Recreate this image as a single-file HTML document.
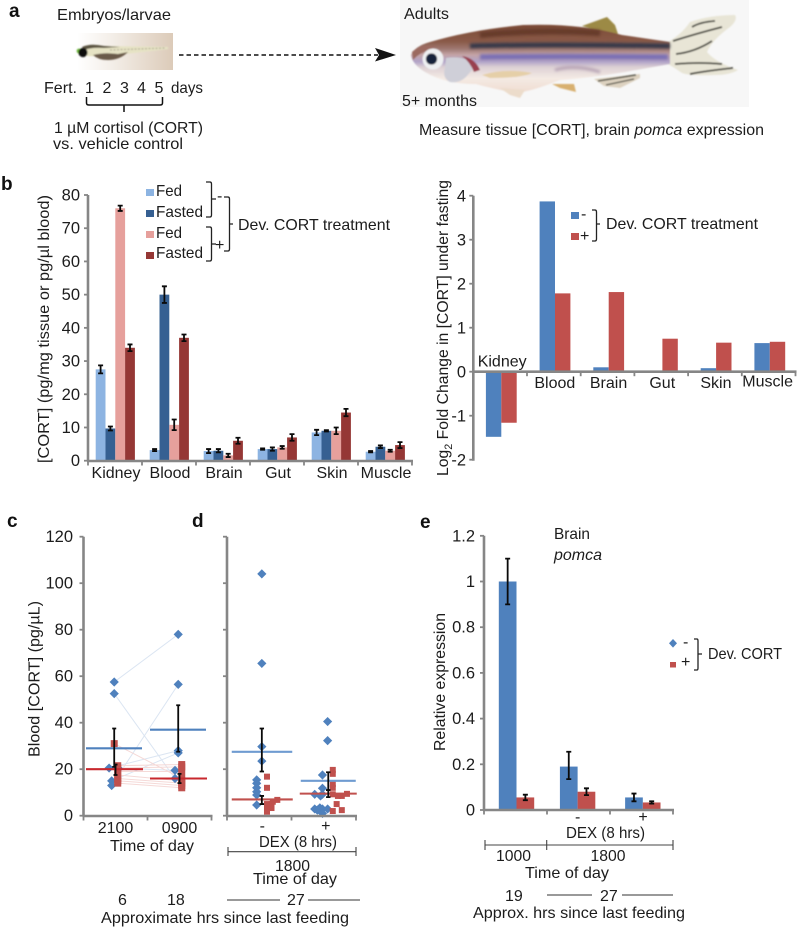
<!DOCTYPE html>
<html lang="en">
<head>
<meta charset="utf-8">
<title>Developmental cortisol figure</title>
<style>
html,body{margin:0;padding:0;background:#fff;}
svg{display:block;filter:blur(0.3px);}
text{font-family:"Liberation Sans",sans-serif;fill:#1c1c1c;font-size:16px;}
.pl{font-weight:bold;font-size:19px;fill:#111;}
</style>
</head>
<body>
<svg id="fig" width="797" height="929" viewBox="0 0 797 929" xmlns="http://www.w3.org/2000/svg">
<defs>
<linearGradient id="larvaBg" x1="0" x2="1" y1="0" y2="0"><stop offset="0" stop-color="#ffffff"/><stop offset="0.35" stop-color="#f4efe9"/><stop offset="1" stop-color="#dccbb9"/></linearGradient>
<linearGradient id="fishBody" x1="0" x2="0" y1="0" y2="1"><stop offset="0" stop-color="#7b4a36"/><stop offset="0.25" stop-color="#8a5a48"/><stop offset="0.36" stop-color="#a07a74"/><stop offset="0.44" stop-color="#c4a4a6"/><stop offset="0.54" stop-color="#b0a2c8"/><stop offset="0.62" stop-color="#dcd0d4"/><stop offset="0.78" stop-color="#f4eae4"/><stop offset="1" stop-color="#f0dcd0"/></linearGradient>
<filter id="soft" filterUnits="userSpaceOnUse" x="60" y="0" width="720" height="120"><feGaussianBlur stdDeviation="0.7"/></filter>
<filter id="soft2" filterUnits="userSpaceOnUse" x="400" y="0" width="360" height="110"><feGaussianBlur stdDeviation="1.3"/></filter>
</defs>

<!-- Panel a -->
<g>
<text class="pl" x="9" y="17">a</text>
<text x="57" y="20" textLength="114" lengthAdjust="spacingAndGlyphs">Embryos/larvae</text>
<g>
<rect x="77" y="33" width="96" height="37" fill="url(#larvaBg)"/>
<g filter="url(#soft)">
<path d="M80 50 Q88 43 104 46 L168 47 L168 49 L125 54 L104 55 Q90 58 80 54 Z" fill="#e6e3c4"/>
<path d="M82 47 Q90 43 104 46 L120 47 L104 48 Q92 47 84 50 Z" fill="#5a5240"/>
<path d="M93 55 Q104 52 118 54 L128 52 Q120 60 108 60 Q98 60 93 55 Z" fill="#6b5a48"/>
<path d="M110 50 L166 48" stroke="#9a9482" stroke-width="0.8" stroke-dasharray="2 1.5" fill="none"/>
<circle cx="79" cy="51" r="2.4" fill="#6fb83c"/>
<circle cx="83" cy="52.5" r="4.6" fill="#0d0d0d"/>
</g>
</g>
<line x1="179" y1="55" x2="378" y2="55" stroke="#111" stroke-width="1.6" stroke-dasharray="4.5 3"/>
<path d="M375 48 L396 55 L375 61.5 L379 55 Z" fill="#111"/>
<text x="44" y="93" textLength="33" lengthAdjust="spacingAndGlyphs">Fert.</text>
<text x="85" y="93">1</text>
<text x="102.5" y="93">2</text>
<text x="120" y="93">3</text>
<text x="137" y="93">4</text>
<text x="154.5" y="93">5</text>
<text x="171" y="93" textLength="32" lengthAdjust="spacingAndGlyphs">days</text>
<path d="M86.5 97 V103 Q86.5 105 89 105 H160 Q162.5 105 162.5 103 V97 M124 105 V112" fill="none" stroke="#111" stroke-width="1.5"/>
<text x="54" y="133" textLength="149" lengthAdjust="spacingAndGlyphs">1 µM cortisol (CORT)</text>
<text x="53" y="149" textLength="130" lengthAdjust="spacingAndGlyphs">vs. vehicle control</text>

<g>
<rect x="400" y="0" width="349" height="107" fill="#f7f7f7"/>
<g filter="url(#soft)">
<path d="M582 26 L607 17 L615 25 L618 34 L600 31 Z" fill="#9c8a45"/>
<path d="M668 42 Q682 34 690 22 Q710 15 735 15 Q738 20 730 27 Q712 40 707 52 Q715 62 738 70 Q730 75 715 75 Q690 76 682 73 Q675 68 668 64 Z" fill="#e8e5d6"/>
<path d="M673 41 Q695 34 722 27 M676 54 Q695 52 712 41 M675 64 Q700 62 722 64 M690 74 Q705 71 733 68 M692 27 Q700 22 715 21" fill="none" stroke="#3c3c34" stroke-width="1.8"/>
<path d="M594 79 L640 74 L640 78 L620 88 L604 86 Z" fill="#ddd2c0"/>
<path d="M598 81 L636 75 M606 85 L634 79" stroke="#4a4a3e" stroke-width="1.4" fill="none"/>
<path d="M411 55 Q415 46 430 42 Q470 30 523 25 Q580 23 622 35 L670 42 L670 64 L625 72 Q590 78 560 80 Q530 92 515 93 Q490 88 476 84 Q445 84 425 72 Q412 64 411 55 Z" fill="url(#fishBody)"/>
<path d="M470 46 Q540 44 670 46" fill="none" stroke="#34374a" stroke-width="5" filter="url(#soft2)"/>
<path d="M480 57 Q560 56 668 57" fill="none" stroke="#7a6fb4" stroke-width="5.5" filter="url(#soft2)"/>
<path d="M480 35 Q540 29 600 33" fill="none" stroke="#663b2b" stroke-width="6" filter="url(#soft2)"/>
<path d="M555 70 Q575 64 600 72" fill="none" stroke="#b6a2b4" stroke-width="3" filter="url(#soft2)"/>
<path d="M482 75 Q505 68 532 73 Q522 78 490 78 Z" fill="#e5cfa8"/>
<path d="M552 84 L574 84 L576 92 L560 88 Z" fill="#d8b070"/>
<path d="M500 88 L525 90 L520 98 L510 95 Z" fill="#ecdccb"/>
<path d="M446 58 Q458 56 468 60 Q475 68 470 72 Q462 84 450 82 Q442 78 445 68 Z" fill="#cfcfd8"/>
<path d="M462 56 Q475 58 480 70 L474 72 Q470 62 462 56 Z" fill="#99404f"/>
<path d="M412 52 Q420 44 436 46 L430 50 Q420 52 413 60 Z" fill="#9b6a60"/>
<circle cx="433" cy="59" r="10.5" fill="#eef0f2"/>
<circle cx="431.5" cy="59" r="5.6" fill="#14233a"/>
</g>
</g>
<text x="404" y="19" textLength="45" lengthAdjust="spacingAndGlyphs">Adults</text>
<text x="402" y="106" textLength="75" lengthAdjust="spacingAndGlyphs">5+ months</text>
<text x="419" y="135" textLength="345" lengthAdjust="spacingAndGlyphs">Measure tissue [CORT], brain <tspan font-style="italic">pomca</tspan> expression</text>
</g>

<!-- Panel b -->
<g>
<text class="pl" x="1" y="190">b</text>
<text transform="translate(49,463) rotate(-90)" textLength="268" lengthAdjust="spacingAndGlyphs">[CORT] (pg/mg tissue or pg/µl blood)</text>
<g id="chartB"></g>
<rect x="146" y="189" width="8" height="7" fill="#8db4e2"/>
<rect x="146" y="210" width="8" height="7" fill="#366092"/>
<rect x="146" y="231" width="8" height="7" fill="#e6a09c"/>
<rect x="146" y="252" width="8" height="7" fill="#953735"/>
<text x="156" y="196" textLength="26" lengthAdjust="spacingAndGlyphs">Fed</text>
<text x="156" y="217" textLength="47" lengthAdjust="spacingAndGlyphs">Fasted</text>
<text x="156" y="238" textLength="26" lengthAdjust="spacingAndGlyphs">Fed</text>
<text x="156" y="258" textLength="47" lengthAdjust="spacingAndGlyphs">Fasted</text>
<path d="M206 182 H210 Q211.5 182 211.5 184 V215 Q211.5 217 210 217 H206 M211.5 199 H216" fill="none" stroke="#222" stroke-width="1.3"/>
<path d="M206 227 H210 Q211.5 227 211.5 229 V259 Q211.5 261 210 261 H206 M211.5 244 H216" fill="none" stroke="#222" stroke-width="1.3"/>
<text x="217" y="201">-</text>
<text x="215" y="250" font-size="15">+</text>
<path d="M224 197 H228 Q229.5 197 229.5 199 V249 Q229.5 251 228 251 H224 M229.5 224 H233" fill="none" stroke="#222" stroke-width="1.3"/>
<text x="238" y="230" textLength="152" lengthAdjust="spacingAndGlyphs">Dev. CORT treatment</text>
</g>

<g>
<text transform="translate(448,476) rotate(-90)" textLength="296" lengthAdjust="spacingAndGlyphs">Log<tspan dy="4" font-size="11">2</tspan><tspan dy="-4"> Fold Change in [CORT] under fasting</tspan></text>
<g id="chartFold"></g>
<rect x="571" y="212" width="8" height="7" fill="#4f81bd"/>
<rect x="571" y="233" width="8" height="7" fill="#c0504d"/>
<text x="581" y="219">-</text>
<text x="580" y="241" font-size="15">+</text>
<path d="M592 210 H595 Q596.5 210 596.5 212 V239 Q596.5 241 595 241 H592 M596.5 224 H600" fill="none" stroke="#222" stroke-width="1.3"/>
<text x="606" y="229" textLength="152" lengthAdjust="spacingAndGlyphs">Dev. CORT treatment</text>
</g>

<!-- Panel c -->
<g>
<text class="pl" x="7" y="527">c</text>
<text transform="translate(39.5,757) rotate(-90)" textLength="156" lengthAdjust="spacingAndGlyphs">Blood [CORT] (pg/µL)</text>
<g id="chartC"></g>
<text x="110" y="851" textLength="84" lengthAdjust="spacingAndGlyphs">Time of day</text>
<text x="118" y="905">6</text>
<text x="167" y="905">18</text>
<text x="101" y="923" textLength="248" lengthAdjust="spacingAndGlyphs">Approximate hrs since last feeding</text>
</g>

<!-- Panel d -->
<g>
<text class="pl" x="192" y="527">d</text>
<g id="chartD"></g>
<text x="259" y="847" textLength="78" lengthAdjust="spacingAndGlyphs">DEX (8 hrs)</text>
<path d="M228 847 V856 M228 851.7 H356 M356 847 V856" fill="none" stroke="#444" stroke-width="1.1"/>
<text x="275" y="871" textLength="35" lengthAdjust="spacingAndGlyphs">1800</text>
<text x="253" y="884" textLength="84" lengthAdjust="spacingAndGlyphs">Time of day</text>
<text x="287" y="905">27</text>
<path d="M227 900 H280 M308 900 H360" stroke="#333" stroke-width="1"/>
</g>

<!-- Panel e -->
<g>
<text class="pl" x="420" y="528">e</text>
<text transform="translate(445,751) rotate(-90)" textLength="138" lengthAdjust="spacingAndGlyphs">Relative expression</text>
<text x="554" y="539" textLength="36" lengthAdjust="spacingAndGlyphs">Brain</text>
<text x="554" y="560" textLength="48" lengthAdjust="spacingAndGlyphs" font-style="italic">pomca</text>
<g id="chartE"></g>
<path d="M673 639 L677 643.3 L673 647.6 L669 643.3 Z" fill="#4f81bd"/>
<rect x="670" y="662" width="6" height="5.5" fill="#c0504d"/>
<text x="683" y="647">-</text>
<text x="681" y="667" font-size="15">+</text>
<path d="M694 639 H697 Q698 639 698 641 V668 Q698 670 697 670 H694 M698 654 H702" fill="none" stroke="#222" stroke-width="1.3"/>
<text x="708" y="659" textLength="74" lengthAdjust="spacingAndGlyphs">Dev. CORT</text>
<text x="566" y="838" textLength="79" lengthAdjust="spacingAndGlyphs">DEX (8 hrs)</text>
<path d="M485 840 V850 M485 845 H673 M546.7 840 V850 M673 840 V850" fill="none" stroke="#444" stroke-width="1.1"/>
<text x="496" y="861" textLength="35" lengthAdjust="spacingAndGlyphs">1000</text>
<text x="590.5" y="861" textLength="35" lengthAdjust="spacingAndGlyphs">1800</text>
<text x="525" y="878" textLength="84" lengthAdjust="spacingAndGlyphs">Time of day</text>
<text x="505" y="901">19</text>
<text x="600" y="901">27</text>
<path d="M547 895 H592 M622 895 H673" stroke="#333" stroke-width="1"/>
<text x="473" y="918" textLength="212" lengthAdjust="spacingAndGlyphs">Approx. hrs since last feeding</text>
</g>
</svg>

<script>
/* Panel b left: tissue CORT */
const tissues = ['Kidney','Blood','Brain','Gut','Skin','Muscle'];
const tissueTicks = [0,10,20,30,40,50,60,70,80];
const fedMinus = [27.5,3.2,2.9,3.5,8.5,2.7];
const fastedMinus = [9.7,50,3,3.5,9,4.2];
const fedPlus = [76,10.8,1.6,4,9,3];
const fastedPlus = [34,37,6,7,14.5,4.7];
const fedMinusErr = [1.2,0.3,0.6,0.2,0.8,0.2];
const fastedMinusErr = [0.6,2.5,0.5,0.5,0.2,0.4];
const fedPlusErr = [0.8,1.6,0.5,0.4,1,0.3];
const fastedPlusErr = [1,1,0.9,1,1.1,0.9];

/* Panel b right: log2 fold change */
const foldTicks = [-2,-1,0,1,2,3,4];
const foldMinus = [-1.48,3.87,0.1,0,0.08,0.65];
const foldPlus = [-1.16,1.78,1.81,0.75,0.66,0.68];

/* Panel c: paired samples, evening and morning */
const cTimes = ['2100','0900'];
const bloodTicks = [0,20,40,60,80,100,120];
const cBlueEvening = [57.5,52.5,20.5,20.5,15,13];
const cBlueMorning = [78,16,28,19.5,27,56.5];
const cBlueEveningJitter = [-0.02,-0.02,-0.1,0.04,-0.06,-0.06];
const cBlueMorningJitter = [-0.02,-0.07,-0.02,-0.07,-0.02,-0.02];
const cRedEvening = [31,21.5,20.5,19,17.5,16,15,14];
const cRedMorning = [16,22,21,19,15,14,13,12];
const cRedEveningJitter = [-0.02,0.035,0.035,0.035,0.035,0.035,0.035,0.035];
const cRedMorningJitter = [0.035,0.035,0.035,0.035,0.035,0.035,0.035,0.035];
const cBlueMean = [29,37];
const cRedMean = [20,16];
const cBlueErrLow = [21,27.5];
const cBlueErrHigh = [37.5,47.5];
const cRedErrLow = [17.5,14];
const cRedErrHigh = [22,18];

/* Panel d: DEX */
const dexGroups = ['-','+'];
const dBlueMinus = [104,65.5,29.7,23.5,15.4,13.9,12,10.3,8.9,4.6];
const dBlueMinusJitter = [0.04,0.04,0.04,0.04,-0.04,-0.04,-0.04,-0.04,-0.04,-0.04];
const dRedMinus = [16.8,12,6.8,6,5,5,3.3,3.3,1.7,4];
const dRedMinusJitter = [0.12,0.12,0.28,0.21,0.12,0.19,0.19,0.12,0.12,0.16];
const dBluePlus = [40.5,32.3,17.5,11.8,9.2,9.2,8.5,2.9,3.4,2.9,2.4,1,2.9];
const dBluePlusJitter = [0.06,0.06,-0.02,-0.02,-0.14,-0.02,-0.05,-0.14,-0.06,-0.02,-0.1,-0.02,0.06];
const dRedPlus = [19.7,18,13.6,12,9.2,8.5,8.5,9.4,5,2,2.4];
const dRedPlusJitter = [0.14,0.14,0.14,0.14,0.14,0.22,0.28,0.36,0.2,0.14,0.28];
const dBlueMean = [27.5,15];
const dRedMean = [7,9.5];
const dBlueErrLow = [19,11];
const dBlueErrHigh = [37.5,18.7];
const dRedErrLow = [5,8];
const dRedErrHigh = [8.5,11];

/* Panel e: pomca */
const pomcaTicks = ['0','0.2','0.4','0.6','0.8','1','1.2'];
const pomcaMinus = [1,0.19,0.055];
const pomcaPlus = [0.055,0.08,0.033];
const pomcaMinusErrLow = [0.9,0.135,0.038];
const pomcaMinusErrHigh = [1.1,0.255,0.072];
const pomcaPlusErrLow = [0.043,0.065,0.028];
const pomcaPlusErrHigh = [0.067,0.095,0.038];

const NS = 'http://www.w3.org/2000/svg';
const AXIS = '#868686';
function el(parent, tag, attrs, txt){
  const e = document.createElementNS(NS, tag);
  for (const k in attrs) e.setAttribute(k, attrs[k]);
  if (txt !== undefined) e.textContent = txt;
  parent.appendChild(e);
  return e;
}
function yAxis(parent, x, scale, ticks, labelX, top, bottom, offset){
  const ax = el(parent,'line',{x1:x,x2:x,y1:top,y2:bottom,stroke:AXIS,'stroke-width':2.6});
  
  
  ticks.forEach(function(t){
    const y = scale(Number(t));
    const tk = el(parent,'line',{x1:x-4,x2:x,y1:y,y2:y,stroke:AXIS,'stroke-width':1.8});
    
    
    if (labelX !== null){
      const lb = el(parent,'text',{x:labelX,y:y+offset,'text-anchor':'end','font-size':16.5},String(t));
      lb.style.fontSize = '16.5px';
      
      
    }
  });
}
function xAxis(parent, x0, step, n, y){
  const ax = el(parent,'line',{x1:x0-1,x2:x0+step*n+1,y1:y,y2:y,stroke:AXIS,'stroke-width':2.6});
  
  
  for (let i=0;i<=n;i++){
    const tk = el(parent,'line',{x1:x0+step*i,x2:x0+step*i,y1:y,y2:y+4.5,stroke:AXIS,'stroke-width':1.8});
    
    
  }
}
function errBar(parent, x, yLow, yHigh, w){
  const b = el(parent,'path',{d:'M'+(x-w)+' '+yHigh+' H'+(x+w)+' M'+x+' '+yHigh+' V'+yLow+' M'+(x-w)+' '+yLow+' H'+(x+w),fill:'none',stroke:'#0a0a0a','stroke-width':1.8});
  
  
}
function bar(parent, x, w, y0, y1, fill, name){
  const r = el(parent,'rect',{x:x,y:Math.min(y0,y1),width:w,height:Math.abs(y1-y0),fill:fill});
  
  
}

/* ---- chart b left ---- */
(function(){
  const g = document.getElementById('chartB');
  const y = function(v){ return 460.7 - v*(265.7/80); };
  const X0 = 88, STEP = 54;
  const series = [
    {v:fedMinus,e:fedMinusErr,c:'#8db4e2',n:'bar-fed-minus'},
    {v:fastedMinus,e:fastedMinusErr,c:'#366092',n:'bar-fasted-minus'},
    {v:fedPlus,e:fedPlusErr,c:'#e6a09c',n:'bar-fed-plus'},
    {v:fastedPlus,e:fastedPlusErr,c:'#953735',n:'bar-fasted-plus'}
  ];
  series.forEach(function(s,si){
    s.v.forEach(function(v,i){
      const x = X0 + STEP*i + 7.7 + 9.8*si;
      bar(g,x,9.8,y(0),y(v),s.c,s.n);
    });
  });
  series.forEach(function(s,si){
    s.v.forEach(function(v,i){
      const x = X0 + STEP*i + 7.7 + 9.8*si + 4.9;
      errBar(g,x,y(v-s.e[i]),y(v+s.e[i]),2.5);
    });
  });
  yAxis(g,X0,y,tissueTicks,80,195,461,5.5);
  xAxis(g,X0,STEP,6,461);
  tissues.forEach(function(t,i){
    const lb = el(g,'text',{x:X0+STEP*i+STEP/2+1,y:478,'text-anchor':'middle'},t);
    
    
  });
})();

/* ---- chart b right ---- */
(function(){
  const g = document.getElementById('chartFold');
  const y = function(v){ return 371.7 - v*44; };
  const X0 = 473.3, STEP = 53.7, W = 15.4;
  tissues.forEach(function(t,i){
    const x = X0 + STEP*i + 12.6;
    bar(g,x,W,y(0),y(foldMinus[i]),'#4f81bd','bar-fold-minus');
    bar(g,x+W,W,y(0),y(foldPlus[i]),'#c0504d','bar-fold-plus');
  });
  yAxis(g,X0,y,foldTicks,466,195.7,460.7,6);
  xAxis(g,X0,STEP,6,371.7);
  tissues.forEach(function(t,i){
    const ly = i===0 ? 366.7 : (i===5 ? 386.7 : 388);
    const lb = el(g,'text',{x:X0+STEP*i+STEP/2+(i===5?-1:1)+(i===0?1:0),y:ly,'text-anchor':'middle'},t);
    
    
  });
})();

/* ---- scatter helpers ---- */
const yBlood = function(v){ return 815.7 - v*2.325; };
function diamond(parent, x, y){
  const d = el(parent,'path',{d:'M'+x+' '+(y-4.6)+' L'+(x+4.6)+' '+y+' L'+x+' '+(y+4.6)+' L'+(x-4.6)+' '+y+' Z',fill:'#4f81bd'});
  
  
}
function square(parent, x, y, s){
  const r = el(parent,'rect',{x:x-s/2,y:y-s/2,width:s,height:s,fill:'#c0504d'});
  
  
}
function meanLine(parent, x1, x2, y, c){
  const l = el(parent,'line',{x1:x1,x2:x2,y1:y,y2:y,stroke:c,'stroke-width':2.1});
  
  
}

/* ---- chart c ---- */
(function(){
  const g = document.getElementById('chartC');
  const X0 = 83.5, STEP = 64;
  const xC = function(i,j){ return X0 + STEP*(i+0.5) + j*STEP; };
  cBlueEvening.forEach(function(v,i){
    const l = el(g,'line',{x1:xC(0,cBlueEveningJitter[i]),y1:yBlood(v),x2:xC(1,cBlueMorningJitter[i]),y2:yBlood(cBlueMorning[i]),stroke:'#dbe5f2','stroke-width':1});
    
    
  });
  cRedEvening.forEach(function(v,i){
    const l = el(g,'line',{x1:xC(0,cRedEveningJitter[i]),y1:yBlood(v),x2:xC(1,cRedMorningJitter[i]),y2:yBlood(cRedMorning[i]),stroke:'#f5d9d7','stroke-width':1});
    
    
  });
  cBlueEvening.forEach(function(v,i){ diamond(g,xC(0,cBlueEveningJitter[i]),yBlood(v)); });
  cBlueMorning.forEach(function(v,i){ diamond(g,xC(1,cBlueMorningJitter[i]),yBlood(v)); });
  cRedEvening.forEach(function(v,i){ square(g,xC(0,cRedEveningJitter[i]),yBlood(v),7); });
  cRedMorning.forEach(function(v,i){ square(g,xC(1,cRedMorningJitter[i]),yBlood(v),7); });
  cTimes.forEach(function(t,i){
    meanLine(g,xC(i,0)-29.5,xC(i,0)+26.5,yBlood(cBlueMean[i]),'#4f81bd');
    meanLine(g,xC(i,0)-29.5,xC(i,0)+27.5,yBlood(cRedMean[i]),'#c8282e');
    errBar(g,xC(i,-0.02),yBlood(cBlueErrLow[i]),yBlood(cBlueErrHigh[i]),2);
    errBar(g,xC(i,0),yBlood(cRedErrLow[i]),yBlood(cRedErrHigh[i]),2);
    const lb = el(g,'text',{x:xC(i,0),y:833,'text-anchor':'middle'},t);
    
    
  });
  yAxis(g,X0,yBlood,bloodTicks,73,536.7,816,5.5);
  xAxis(g,X0,STEP,2,816);
})();

/* ---- chart d ---- */
(function(){
  const g = document.getElementById('chartD');
  const X0 = 227, STEP = 64.5;
  const xD = function(i,j){ return X0 + STEP*(i+0.5) + j*STEP; };
  dBlueMinus.forEach(function(v,i){ diamond(g,xD(0,dBlueMinusJitter[i]),yBlood(v)); });
  dBluePlus.forEach(function(v,i){ diamond(g,xD(1,dBluePlusJitter[i]),yBlood(v)); });
  dRedMinus.forEach(function(v,i){ square(g,xD(0,dRedMinusJitter[i]),yBlood(v),6); });
  dRedPlus.forEach(function(v,i){ square(g,xD(1,dRedPlusJitter[i]),yBlood(v),6); });
  dexGroups.forEach(function(t,i){
    const cx = xD(i,0);
    meanLine(g,cx-(i?23:27.5),cx+(i?32:33),yBlood(dBlueMean[i]),'#6f9bd1');
    meanLine(g,cx-(i?24:27.5),cx+(i?33:33.5),yBlood(dRedMean[i]),'#c0504d');
    errBar(g,xD(i,i?0.07:0.04),yBlood(dBlueErrLow[i]),yBlood(dBlueErrHigh[i]),2.2);
    errBar(g,xD(i,i?0.07:0.04),yBlood(dRedErrLow[i]),yBlood(dRedErrHigh[i]),2.2);
    const lb = el(g,'text',{x:cx+(i?2:3),y:831,'text-anchor':'middle'},t);
    
    
  });
  yAxis(g,X0,yBlood,bloodTicks,null,536.7,816,0);
  xAxis(g,X0,STEP,2,816);
})();

/* ---- chart e ---- */
(function(){
  const g = document.getElementById('chartE');
  const y = function(v){ return 810 - v*228.5; };
  const X0 = 484, W = 17.7;
  const starts = [0.235,1.205,2.24];
  const STEP = 63;
  pomcaMinus.forEach(function(v,i){
    const x = X0 + STEP*starts[i];
    bar(g,x,W,y(0),y(v),'#4f81bd','bar-pomca-minus');
    bar(g,x+W,W,y(0),y(pomcaPlus[i]),'#c0504d','bar-pomca-plus');
  });
  pomcaMinus.forEach(function(v,i){
    const x = X0 + STEP*starts[i];
    errBar(g,x+W/2,y(pomcaMinusErrLow[i]),y(pomcaMinusErrHigh[i]),2.5);
    errBar(g,x+W*1.5,y(pomcaPlusErrLow[i]),y(pomcaPlusErrHigh[i]),2.5);
  });
  yAxis(g,X0,y,pomcaTicks,475,535.7,810,5.5);
  xAxis(g,X0,STEP,3,810);
  dexGroups.forEach(function(t,i){
    const lb = el(g,'text',{x:i?643:577.7,y:822,'text-anchor':'middle'},t);
    
    
  });
})();
</script>
</body>
</html>
